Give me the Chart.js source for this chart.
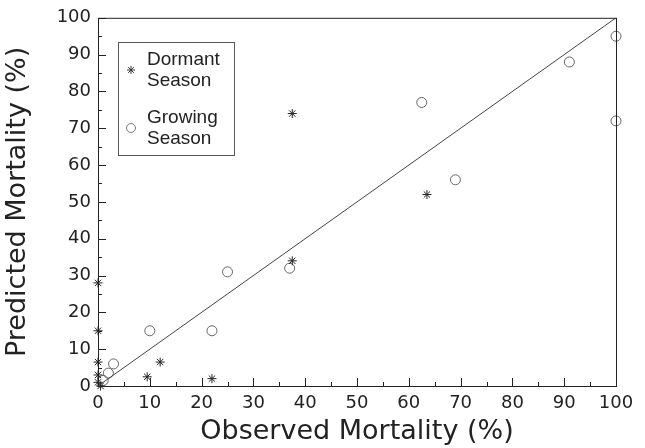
<!DOCTYPE html>
<html>
<head>
<meta charset="utf-8">
<script src="https://cdn.jsdelivr.net/npm/chart.js@4.4.0/dist/chart.umd.min.js"></script>
<style>
  html, body { margin: 0; padding: 0; background: #fff; }
  #wrap { width: 645px; height: 448px; }
</style>
</head>
<body>
<div id="wrap"><canvas id="mortChart" width="645" height="448"></canvas></div>
<script>
// observed vs predicted mortality (%)
const dormantObs  = [0, 0, 0, 0, 0, 0.5, 9.5, 12, 22, 37.5, 37.5, 63.5];
const dormantPred = [28, 15, 6.5, 3, 1, 0, 2.5, 6.5, 2, 34, 74, 52];
const growingObs  = [100, 91, 62.5, 100, 69, 25, 37, 10, 22, 3, 2, 1];
const growingPred = [95, 88, 77, 72, 56, 31, 32, 15, 15, 6, 3.5, 1.5];
const lineObs  = [0, 100];
const linePred = [0, 100];
const legendLabels = [['Dormant', 'Season'], ['Growing', 'Season']];

const toPts = (xs, ys) => xs.map((x, i) => ({ x: x, y: ys[i] }));
const font = '"Liberation Sans", Arial, sans-serif';
const wideFont = '"DejaVu Sans", sans-serif';
const ink = '#222';

// inward ticks, box and legend drawn on top
const framePlugin = {
    id: 'frame',
    afterDatasetsDraw(chart) {
        const ctx = chart.ctx;
        const a = chart.chartArea;
        const xs = chart.scales.x, ys = chart.scales.y;
        ctx.save();
        ctx.strokeStyle = ink;
        ctx.lineWidth = 1;
        ctx.strokeRect(a.left + 0.5, a.top + 0.5, a.right - a.left, a.bottom - a.top);
        ctx.beginPath();
        for (let v = 0; v <= 100; v += 5) {
            const len = v % 10 === 0 ? 8 : 4;
            const px = Math.round(xs.getPixelForValue(v)) + 0.5;
            ctx.moveTo(px, a.bottom);
            ctx.lineTo(px, a.bottom - len);
            const py = Math.round(ys.getPixelForValue(v)) + 0.5;
            ctx.moveTo(a.left, py);
            ctx.lineTo(a.left + len, py);
        }
        ctx.stroke();

        // legend box
        const bx = 118, by = 42, bw = 116, bh = 113;
        ctx.strokeStyle = '#555';
        ctx.strokeRect(bx + 0.5, by + 0.5, bw, bh);
        ctx.fillStyle = ink;
        ctx.font = '19px ' + font;
        ctx.textBaseline = 'middle';
        ctx.textAlign = 'left';
        legendLabels.forEach((lines, i) => {
            const top = by + 18 + i * 58;
            lines.forEach((t, j) => ctx.fillText(t, bx + 29, top + j * 21));
            const mx = bx + 13, my = top + 10;
            ctx.strokeStyle = i === 0 ? '#333' : '#777';
            ctx.beginPath();
            if (i === 0) {
                for (let k = 0; k < 4; k++) {
                    const ang = k * Math.PI / 4;
                    ctx.moveTo(mx - 4 * Math.cos(ang), my - 4 * Math.sin(ang));
                    ctx.lineTo(mx + 4 * Math.cos(ang), my + 4 * Math.sin(ang));
                }
            } else {
                ctx.arc(mx, my, 4.5, 0, Math.PI * 2);
            }
            ctx.stroke();
        });
        ctx.restore();
    }
};

const ctx = document.getElementById('mortChart').getContext('2d');
new Chart(ctx, {
    type: 'scatter',
    data: {
        datasets: [
            {
                label: '1:1',
                type: 'line',
                data: toPts(lineObs, linePred),
                borderColor: '#444',
                borderWidth: 1,
                pointRadius: 0,
                fill: false
            },
            {
                label: 'Dormant Season',
                data: toPts(dormantObs, dormantPred),
                pointStyle: 'star',
                pointRadius: 4.5,
                borderColor: '#222',
                borderWidth: 1,
                backgroundColor: 'rgba(0,0,0,0)',
                clip: false
            },
            {
                label: 'Growing Season',
                data: toPts(growingObs, growingPred),
                pointStyle: 'circle',
                pointRadius: 5,
                borderColor: '#666',
                borderWidth: 1,
                backgroundColor: 'rgba(0,0,0,0)',
                clip: false
            }
        ]
    },
    options: {
        responsive: false,
        animation: false,
        layout: { padding: { top: 15, right: 29, left: 0, bottom: 0 } },
        plugins: { legend: { display: false }, tooltip: { enabled: false } },
        scales: {
            x: {
                type: 'linear',
                min: 0, max: 100,
                grid: { display: false, drawTicks: false },
                border: { display: false },
                ticks: { stepSize: 10, color: ink, padding: 7, font: { family: wideFont, size: 18 } },
                title: { display: true, text: 'Observed Mortality (%)', color: ink, padding: { top: 3, bottom: 0 }, font: { family: wideFont, size: 27 } },
                afterFit(scale) { scale.height = 62; }
            },
            y: {
                type: 'linear',
                min: 0, max: 100,
                grid: { display: false, drawTicks: false },
                border: { display: false },
                ticks: { stepSize: 10, color: ink, padding: 7, font: { family: wideFont, size: 18 } },
                title: { display: true, text: 'Predicted Mortality (%)', color: ink, padding: { top: 2, bottom: 4 }, font: { family: wideFont, size: 27 } },
                afterFit(scale) { scale.width = 98; }
            }
        }
    },
    plugins: [framePlugin]
});
</script>
</body>
</html>
